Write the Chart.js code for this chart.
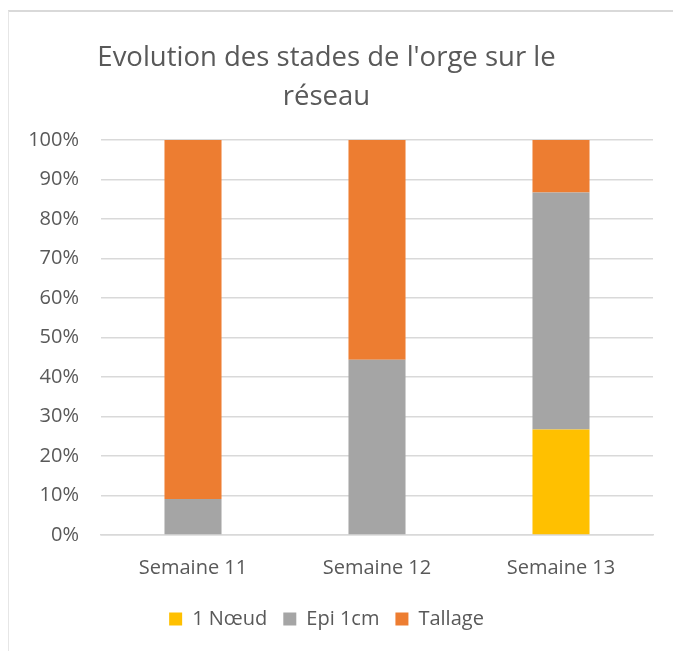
<!DOCTYPE html>
<html>
<head>
<meta charset="utf-8">
<script src="https://cdn.jsdelivr.net/npm/chart.js@4"></script>
<style>
  body { margin: 0; background: #fff; }
  #frame { position: absolute; left: 8px; top: 10px; width: 700px; height: 700px; border: 1px solid #e6e6e6; border-top: 2px solid #d9d9d9; }
  #wrap { position: absolute; left: 0; top: 0; width: 673px; height: 651px; }
</style>
</head>
<body>
<div id="frame"></div>
<div id="wrap"><canvas id="myChart" width="673" height="651"></canvas></div>
<script>
const semaines = ["Semaine 11", "Semaine 12", "Semaine 13"];
const noeud = [0, 0, 26.7];
const epi = [9.1, 44.4, 60.0];
const tallage = [90.9, 55.6, 13.3];
const yTicks = ["0%", "10%", "20%", "30%", "40%", "50%", "60%", "70%", "80%", "90%", "100%"];

const grey = "#595959";
const ctx = document.getElementById("myChart");

new Chart(ctx, {
  type: "bar",
  data: {
    labels: semaines,
    datasets: [
      { label: "1 Nœud", data: noeud, backgroundColor: "#FFC000" },
      { label: "Epi 1cm", data: epi, backgroundColor: "#A5A5A5" },
      { label: "Tallage", data: tallage, backgroundColor: "#ED7D31" }
    ]
  },
  options: {
    responsive: false,
    animation: false,
    layout: { padding: { left: 0, right: 20, top: 0, bottom: 12 } },
    datasets: { bar: { categoryPercentage: 1, barPercentage: 0.31 } },
    plugins: {
      title: {
        display: true,
        text: ["Evolution des stades de l'orge sur le", "réseau"],
        color: grey,
        font: { family: "Open Sans", size: 27.5, weight: "normal", lineHeight: 1.42 },
        padding: { top: 39, bottom: 23 }
      },
      legend: {
        position: "bottom",
        labels: {
          color: grey,
          font: { family: "Open Sans", size: 20 },
          boxWidth: 13,
          boxHeight: 13,
          padding: 16
        }
      },
      tooltip: { enabled: false }
    },
    scales: {
      x: {
        stacked: true,
        grid: { display: false },
        border: { color: "#d9d9d9", width: 1.5 },
        ticks: { color: grey, font: { family: "Open Sans", size: 20 }, padding: 13 }
      },
      y: {
        stacked: true,
        min: 0,
        max: 100,
        afterFit: (scale) => { scale.width = 101; },
        grid: { color: "#d9d9d9", lineWidth: 1.5, drawTicks: false },
        border: { display: false },
        ticks: {
          stepSize: 10,
          color: grey,
          padding: 22,
          font: { family: "Open Sans", size: 20 },
          callback: (v, i) => yTicks[i]
        }
      }
    }
  }
});
</script>
</body>
</html>
